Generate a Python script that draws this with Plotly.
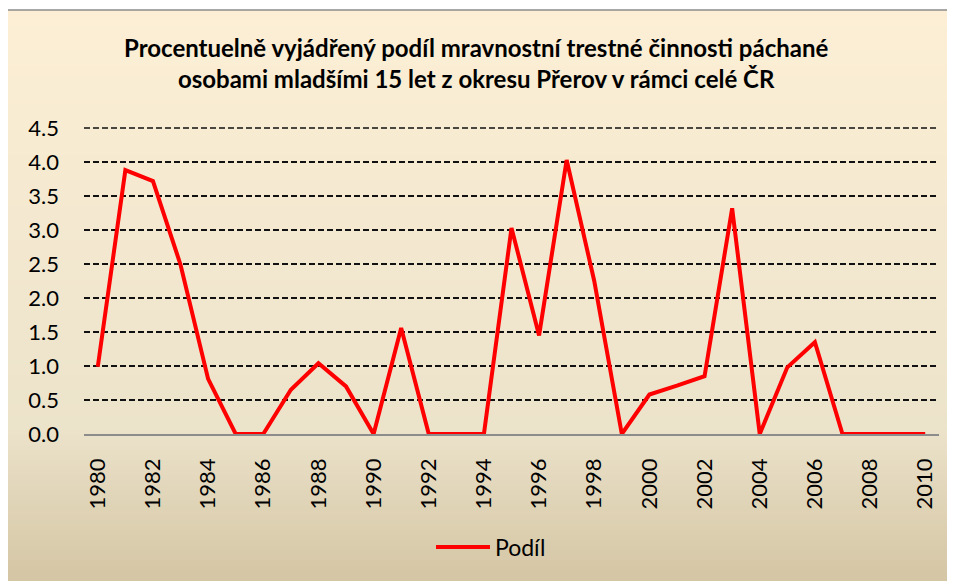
import plotly.graph_objects as go

years = list(range(1980, 2011))
podil = [0.99, 3.88, 3.72, 2.49, 0.81, 0.0, 0.0, 0.65, 1.04, 0.70, 0.0,
         1.56, 0.0, 0.0, 0.0, 3.03, 1.45, 4.03, 2.25, 0.0, 0.58, 0.71,
         0.85, 3.32, 0.0, 0.98, 1.35, 0.0, 0.0, 0.0, 0.0]
y_ticks = [0.0, 0.5, 1.0, 1.5, 2.0, 2.5, 3.0, 3.5, 4.0, 4.5]
x_ticks = list(range(1980, 2011, 2))
title_text = ("Procentuelně vyjádřený podíl mravnostní trestné činnosti páchané<br>"
              "osobami mladšími 15 let z okresu Přerov v rámci celé ČR")
series_name = "Podíl"

OFF = 8  # page body margin
W, H = 955 - OFF, 581 - OFF
# plot area in screenshot pixels
SL, SR, ST, SB = 84, 939, 128, 434
L, R, T, B = SL - OFF, SR - OFF, ST - OFF, SB - OFF

def px2x(px):  # screenshot px -> paper x
    return (px - SL) / (SR - SL)

def py2y(py):  # screenshot px -> paper y
    return (SB - py) / (SB - ST)

# background gradient bands
stops = [(0.0, (252, 239, 213)), (0.72, (236, 227, 203)), (1.0, (211, 196, 162))]

def col(t):
    for (t0, c0), (t1, c1) in zip(stops[:-1], stops[1:]):
        if t <= t1:
            f = (t - t0) / (t1 - t0) if t1 > t0 else 0
            return "rgb(%d,%d,%d)" % tuple(round(a + (b - a) * f) for a, b in zip(c0, c1))
    return "rgb(%d,%d,%d)" % stops[-1][1]

shapes = []
top_px, bot_px, step = 10, 585, 5
p = top_px
while p < bot_px:
    t = (p - top_px) / (bot_px - top_px)
    shapes.append(dict(type="rect", xref="paper", yref="paper", layer="below",
                       x0=px2x(7), x1=px2x(965), y0=py2y(p + step + 0.5), y1=py2y(p),
                       fillcolor=col(t), line=dict(width=0)))
    p += step
shapes.append(dict(type="rect", xref="paper", yref="paper", layer="below",
                   x0=px2x(7), x1=px2x(970), y0=py2y(600), y1=py2y(10),
                   fillcolor="rgba(0,0,0,0)", line=dict(color="#8c8c8c", width=1.5)))
# top gridline at the top of the value range (plotly culls the grid line on the plot edge)
shapes.append(dict(type="line", xref="paper", yref="paper", layer="below",
                   x0=0, x1=1, y0=1, y1=1,
                   line=dict(color="#111", width=1.5, dash="6px,3px")))

fig = go.Figure()
fig.add_trace(go.Scatter(x=years, y=podil, mode="lines", name=series_name,
                         line=dict(color="#ff0000", width=4)))

fig.update_layout(
    width=W, height=H,
    margin=dict(l=L, r=W - R, t=T, b=H - B),
    paper_bgcolor="white", plot_bgcolor="rgba(0,0,0,0)",
    font=dict(family="Lato", size=22, color="#000"),
    shapes=shapes,
    showlegend=True,
    legend=dict(orientation="h", x=px2x(491), xanchor="center", y=py2y(547), yanchor="middle",
                font=dict(size=23), bgcolor="rgba(0,0,0,0)", itemwidth=54),
    annotations=[dict(text="<b>" + title_text.replace("<br>", "</b><br><b>") + "</b>",
                      xref="paper", yref="paper", x=px2x(476), y=py2y(63),
                      xanchor="center", yanchor="middle", showarrow=False,
                      font=dict(family="Lato", size=24, color="#000"))],
)
fig.update_xaxes(range=[1979.5, 2010.5], tickmode="array", tickvals=x_ticks,
                 ticktext=[str(v) for v in x_ticks], tickangle=-90,
                 showgrid=False, zeroline=False, showline=True,
                 linecolor="#8c8c8c", linewidth=1.5, ticks="", ticklabelstandoff=14)
fig.update_yaxes(range=[0, 4.5], tickmode="array", tickvals=y_ticks,
                 ticktext=["%.1f" % v for v in y_ticks],
                 showgrid=True, gridcolor="#111", gridwidth=1.5, griddash="6px,3px",
                 zeroline=False, showline=False, ticks="", ticklabelstandoff=24,
                 layer="below traces")
fig.write_html("out.html")
